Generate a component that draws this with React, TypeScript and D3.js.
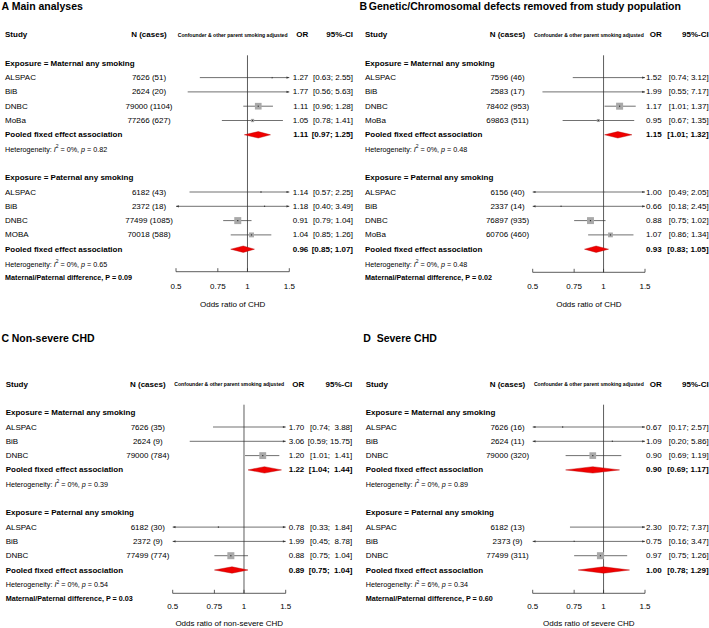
import React from 'react';
import * as d3 from 'd3';

// ---------- DATA ----------
const panelLetters = ['A', 'B', 'C', 'D'];
const panelTitles = [
  'Main analyses',
  'Genetic/Chromosomal defects removed from study population',
  'Non-severe CHD',
  'Severe CHD',
];
const axisTitles = ['Odds ratio of CHD', 'Odds ratio of CHD', 'Odds ratio of non-severe CHD', 'Odds ratio of severe CHD'];
const tickValues = [0.5, 0.75, 1, 1.5];
const tickLabels = ['0.5', '0.75', '1', '1.5'];
const exposureLabels = ['Exposure = Maternal any smoking', 'Exposure = Paternal any smoking'];

type Study = [string, string, number, number, number];

// [study, N (cases), OR, lower, upper]
const aMaternal: Study[] = [
  ['ALSPAC', '7626 (51)', 1.27, 0.63, 2.55],
  ['BiB', '2624 (20)', 1.77, 0.56, 5.63],
  ['DNBC', '79000 (1104)', 1.11, 0.96, 1.28],
  ['MoBa', '77266 (627)', 1.05, 0.78, 1.41],
];
const aPaternal: Study[] = [
  ['ALSPAC', '6182 (43)', 1.14, 0.57, 2.25],
  ['BiB', '2372 (18)', 1.18, 0.40, 3.49],
  ['DNBC', '77499 (1085)', 0.91, 0.79, 1.04],
  ['MOBA', '70018 (588)', 1.04, 0.85, 1.26],
];
const bMaternal: Study[] = [
  ['ALSPAC', '7596 (46)', 1.52, 0.74, 3.12],
  ['BiB', '2583 (17)', 1.99, 0.55, 7.17],
  ['DNBC', '78402 (953)', 1.17, 1.01, 1.37],
  ['MoBa', '69863 (511)', 0.95, 0.67, 1.35],
];
const bPaternal: Study[] = [
  ['ALSPAC', '6156 (40)', 1.0, 0.49, 2.05],
  ['BiB', '2337 (14)', 0.66, 0.18, 2.45],
  ['DNBC', '76897 (935)', 0.88, 0.75, 1.02],
  ['MoBa', '60706 (460)', 1.07, 0.86, 1.34],
];
const cMaternal: Study[] = [
  ['ALSPAC', '7626 (35)', 1.7, 0.74, 3.88],
  ['BiB', '2624 (9)', 3.06, 0.59, 15.75],
  ['DNBC', '79000 (784)', 1.2, 1.01, 1.41],
];
const cPaternal: Study[] = [
  ['ALSPAC', '6182 (30)', 0.78, 0.33, 1.84],
  ['BiB', '2372 (9)', 1.99, 0.45, 8.78],
  ['DNBC', '77499 (774)', 0.88, 0.75, 1.04],
];
const dMaternal: Study[] = [
  ['ALSPAC', '7626 (16)', 0.67, 0.17, 2.57],
  ['BiB', '2624 (11)', 1.09, 0.2, 5.86],
  ['DNBC', '79000 (320)', 0.9, 0.69, 1.19],
];
const dPaternal: Study[] = [
  ['ALSPAC', '6182 (13)', 2.3, 0.72, 7.37],
  ['BiB', '2373 (9)', 0.75, 0.16, 3.47],
  ['DNBC', '77499 (311)', 0.97, 0.75, 1.26],
];

// pooled [OR, lower, upper] per panel: [maternal, paternal]
const pooledA = [[1.11, 0.97, 1.25], [0.96, 0.85, 1.07]];
const pooledB = [[1.15, 1.01, 1.32], [0.93, 0.83, 1.05]];
const pooledC = [[1.22, 1.04, 1.44], [0.89, 0.75, 1.04]];
const pooledD = [[0.9, 0.69, 1.17], [1.0, 0.78, 1.29]];

// heterogeneity [I2, p] per panel: [maternal, paternal]
const hetA = [['0%', '0.82'], ['0%', '0.65']];
const hetB = [['0%', '0.48'], ['0%', '0.48']];
const hetC = [['0%', '0.39'], ['0%', '0.54']];
const hetD = [['0%', '0.89'], ['6%', '0.34']];

const diffP = ['0.09', '0.02', '0.03', '0.60'];

const panelStudies = [
  [aMaternal, aPaternal],
  [bMaternal, bPaternal],
  [cMaternal, cPaternal],
  [dMaternal, dPaternal],
];
const panelPooled = [pooledA, pooledB, pooledC, pooledD];
const panelHet = [hetA, hetB, hetC, hetD];

// ---------- LAYOUT ----------
const layouts = [
  { labelX: 5, nX: 149, plotL: 176, plotR: 289.3, orX: 308.3, ciX: 353, row0: 63.3, headerY: 34.7, titleY: 5.5, letterX: 1.5, titleX: 11.7, axisY: 271.7, tickY: 286.3, axTitleY: 304.3 },
  { labelX: 365, nX: 507.5, plotL: 532.7, plotR: 645, orX: 661.7, ciX: 708.7, row0: 63.3, headerY: 34.7, titleY: 5.5, letterX: 359.5, titleX: 368.8, axisY: 272.3, tickY: 286.3, axTitleY: 304.8 },
  { labelX: 5.7, nX: 147.8, plotL: 172.7, plotR: 285.7, orX: 304.3, ciX: 352.3, row0: 412.7, headerY: 384, titleY: 338.3, letterX: 1.5, titleX: 11.7, axisY: 593.3, tickY: 606, axTitleY: 623.3 },
  { labelX: 365.7, nX: 507.5, plotL: 532.7, plotR: 645, orX: 661.7, ciX: 708.7, row0: 412.7, headerY: 384, titleY: 338.3, letterX: 363.3, titleX: 376.7, axisY: 593.3, tickY: 606, axTitleY: 623.3 },
];
const ROW = 14.3;
const FONT = '"Liberation Sans", Arial, Helvetica, sans-serif';

function fmtCI(lo: number, hi: number, wide: boolean) {
  const h = hi.toFixed(2);
  const pad = wide && h.length < 5 ? '  ' : ' ';
  return `[${lo.toFixed(2)};${pad}${h}]`;
}

function Panel({ idx }: { idx: number }) {
  const L = layouts[idx];
  const groups = panelStudies[idx];
  const pooled = panelPooled[idx];
  const het = panelHet[idx];
  const x = d3.scaleLog().domain([0.5, 1.5]).range([L.plotL, L.plotR]);
  const [dMin, dMax] = x.domain();
  const all = groups.flat();
  const wide = all.some((s) => s[4] >= 10);
  const weight = (lo: number, hi: number) => Math.pow(3.92 / Math.log(hi / lo), 2);
  const wMax = d3.max(all, (s) => weight(s[3], s[4])) as number;

  const rowY = (i: number) => L.row0 + i * ROW;
  const els: React.ReactNode[] = [];
  let r = 0;
  groups.forEach((studies, g) => {
    els.push(
      <text key={`exp${g}`} x={L.labelX} y={rowY(r)} fontWeight="bold" fontSize={8} dominantBaseline="central">
        {exposureLabels[g]}
      </text>
    );
    r++;
    studies.forEach((s, si) => {
      const y = rowY(r);
      const [name, n, or, lo, hi] = s;
      const x1 = x(Math.max(lo, dMin));
      const x2 = x(Math.min(hi, dMax));
      const side = 7 * Math.sqrt(weight(lo, hi) / wMax);
      els.push(
        <g key={`s${g}-${si}`}>
          <text x={L.labelX} y={y} fontSize={8} dominantBaseline="central">{name}</text>
          <text x={L.nX} y={y} fontSize={8} textAnchor="middle" dominantBaseline="central">{n}</text>
          <text x={L.orX} y={y} fontSize={8} textAnchor="end" dominantBaseline="central">{or.toFixed(2)}</text>
          <text x={L.ciX} y={y} fontSize={8} textAnchor="end" dominantBaseline="central" style={{ whiteSpace: 'pre' }}>{fmtCI(lo, hi, wide)}</text>
          <line x1={x1} x2={x2} y1={y} y2={y} stroke="#333" strokeWidth={0.7} />
          {lo < dMin && <path d={`M${x1},${y} L${x1 + 2.8},${y - 1.1} L${x1 + 2.8},${y + 1.1} Z`} fill="#333" />}
          {hi > dMax && <path d={`M${x2},${y} L${x2 - 2.8},${y - 1.1} L${x2 - 2.8},${y + 1.1} Z`} fill="#333" />}
          {or >= dMin && or <= dMax && (
            <g>
              <rect x={x(or) - side / 2} y={y - side / 2} width={side} height={side} fill="#a9a9a9" />
              <rect x={x(or) - 0.6} y={y - 0.6} width={1.2} height={1.2} fill="#333" />
            </g>
          )}
        </g>
      );
      r++;
    });
    const [por, plo, phi] = pooled[g];
    const y = rowY(r);
    els.push(
      <g key={`p${g}`}>
        <text x={L.labelX} y={y} fontSize={8} fontWeight="bold" dominantBaseline="central">Pooled fixed effect association</text>
        <text x={L.orX} y={y} fontSize={8} fontWeight="bold" textAnchor="end" dominantBaseline="central">{por.toFixed(2)}</text>
        <text x={L.ciX} y={y} fontSize={8} fontWeight="bold" textAnchor="end" dominantBaseline="central" style={{ whiteSpace: 'pre' }}>{fmtCI(plo, phi, wide)}</text>
        <path
          d={`M${x(plo)},${y} L${x(por)},${y - 3.2} L${x(phi)},${y} L${x(por)},${y + 3.2} Z`}
          fill="#f00000"
          stroke="#b00000"
          strokeWidth={0.4}
        />
      </g>
    );
    r++;
    const hy = rowY(r);
    els.push(
      <text key={`h${g}`} x={L.labelX} y={hy} fontSize={7.2} dominantBaseline="central">
        <tspan>Heterogeneity: </tspan>
        <tspan fontStyle="italic">I</tspan>
        <tspan fontSize={5} dy={-2.8}>2</tspan>
        <tspan dy={2.8}>{` = ${het[g][0]}, `}</tspan>
        <tspan fontStyle="italic">p</tspan>
        <tspan>{` = ${het[g][1]}`}</tspan>
      </text>
    );
    r++;
    if (g === 0) r++;
  });
  els.push(
    <text key="diff" x={L.labelX} y={rowY(r)} fontSize={7.2} fontWeight="bold" dominantBaseline="central">
      {`Maternal/Paternal difference, P = ${diffP[idx]}`}
    </text>
  );

  const x1 = x(1);
  return (
    <g fontFamily={FONT} fill="#000">
      <text x={L.letterX} y={L.titleY} fontSize={10.5} fontWeight="bold" dominantBaseline="central">{panelLetters[idx]}</text>
      <text x={L.titleX} y={L.titleY} fontSize={10.5} fontWeight="bold" dominantBaseline="central">{panelTitles[idx]}</text>
      <text x={L.labelX} y={L.headerY} fontSize={8} fontWeight="bold" dominantBaseline="central">Study</text>
      <text x={L.nX} y={L.headerY} fontSize={8} fontWeight="bold" textAnchor="middle" dominantBaseline="central">N (cases)</text>
      <text x={(L.plotL + L.plotR) / 2} y={L.headerY} fontSize={5.1} fontWeight="bold" textAnchor="middle" dominantBaseline="central">
        Confounder &amp; other parent smoking adjusted
      </text>
      <text x={L.orX} y={L.headerY} fontSize={8} fontWeight="bold" textAnchor="end" dominantBaseline="central">OR</text>
      <text x={L.ciX} y={L.headerY} fontSize={8} fontWeight="bold" textAnchor="end" dominantBaseline="central">95%-CI</text>
      <line x1={x1} x2={x1} y1={L.row0 - 8} y2={L.axisY} stroke="#333" strokeWidth={0.8} />
      {els}
      <line x1={L.plotL} x2={L.plotR} y1={L.axisY} y2={L.axisY} stroke="#333" strokeWidth={0.8} />
      {tickValues.map((t, i) => (
        <g key={`t${i}`}>
          <line x1={x(t)} x2={x(t)} y1={L.axisY} y2={L.axisY - 3.5} stroke="#333" strokeWidth={0.8} />
          <text x={x(t)} y={L.tickY} fontSize={8} textAnchor="middle" dominantBaseline="central">{tickLabels[i]}</text>
        </g>
      ))}
      <text x={(L.plotL + L.plotR) / 2} y={L.axTitleY} fontSize={8} textAnchor="middle" dominantBaseline="central">{axisTitles[idx]}</text>
    </g>
  );
}

export default function App() {
  return (
    <svg width={709} height={628} style={{ position: 'absolute', left: 0, top: 0, background: '#fff' }}>
      <rect width={709} height={628} fill="#fff" />
      {[0, 1, 2, 3].map((i) => (
        <Panel key={i} idx={i} />
      ))}
    </svg>
  );
}
